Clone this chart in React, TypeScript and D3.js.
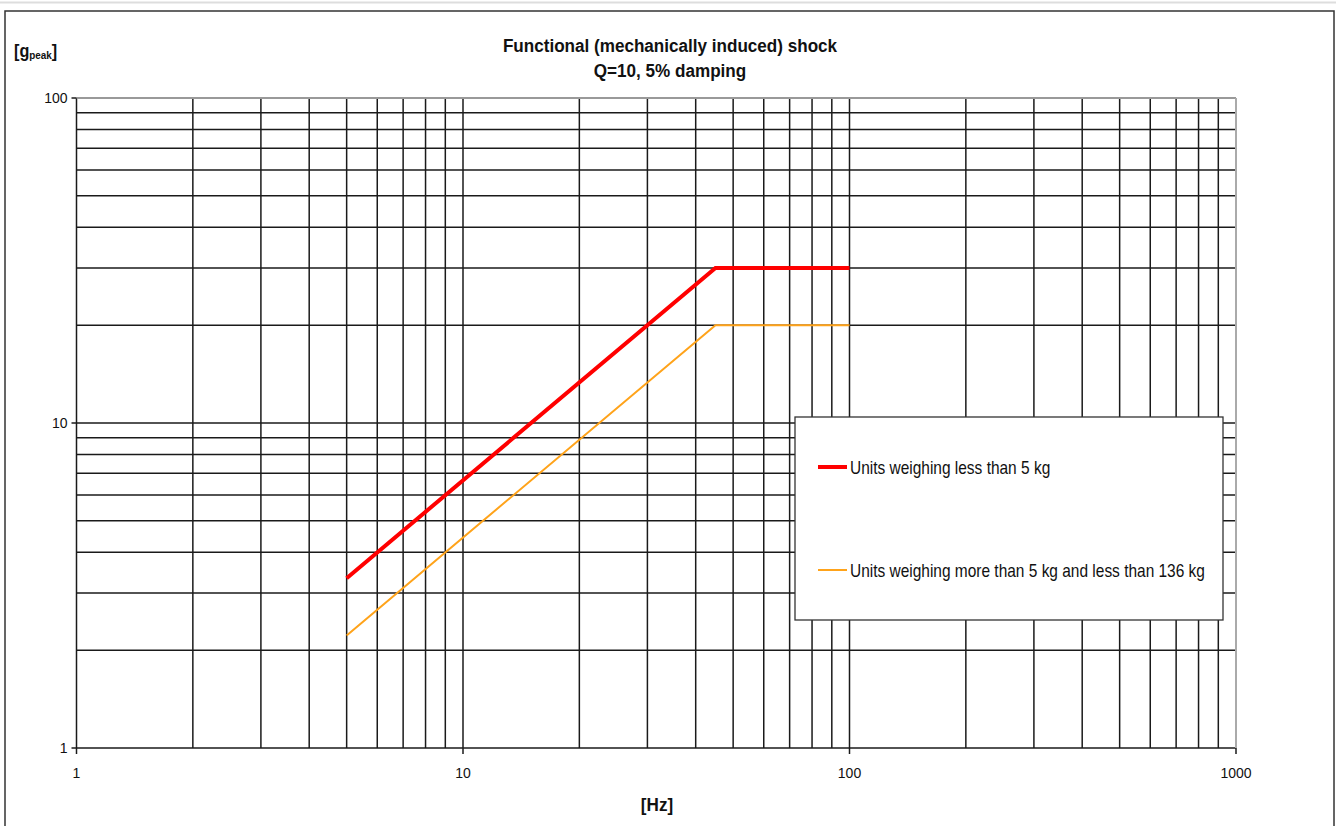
import React from 'react';
import * as d3 from 'd3';

// break points of the shock response spectrum
const freqHz = [5, 45, 100];
const lightUnitsG = [3.33, 30, 30];
const heavyUnitsG = [2.22, 20, 20];

const seriesNames = ['Units weighing less than 5 kg', 'Units weighing more than 5 kg and less than 136 kg'];
const seriesColors = ['#ff0000', '#ffa31a'];
const seriesWidths = [4, 2];

const xTicks = [1, 10, 100, 1000];
const yTicks = [1, 10, 100];
const titleLines = ['Functional (mechanically induced) shock', 'Q=10, 5% damping'];

const W = 1336;
const H = 826;
const font = '"Liberation Sans", Arial, sans-serif';

// the original uses a narrow face; squeeze Liberation Sans horizontally
function Narrow({ x, y, sx, anchor, children, ...rest }: any) {
  return (
    <g transform={`translate(${x},${y}) scale(${sx},1)`}>
      <text x={0} y={0} textAnchor={anchor} fontFamily={font} fill="#111" {...rest}>{children}</text>
    </g>
  );
}

export default function App() {
  const x = d3.scaleLog().domain([1, 1000]).range([76.5, 1236]);
  const y = d3.scaleLog().domain([1, 100]).range([748, 98]);

  // minor + major grid values for each decade
  const xGrid: number[] = [];
  for (const d of [1, 10, 100]) for (let k = 1; k < 10; k++) xGrid.push(d * k);
  const yGrid: number[] = [];
  for (const d of [1, 10]) for (let k = 1; k < 10; k++) yGrid.push(d * k);

  const line = d3.line<[number, number]>()
    .x(d => x(d[0]))
    .y(d => y(d[1]));

  const series = [lightUnitsG, heavyUnitsG].map(vals => freqHz.map((f, i) => [f, vals[i]] as [number, number]));

  const [x0, x1] = x.range();
  const [y0, y1] = y.range();

  return (
    <svg width={W} height={H} style={{ position: 'absolute', left: 0, top: 0, background: '#fff' }}>
      <line x1={0} x2={W} y1={2.5} y2={2.5} stroke="#ddd" strokeWidth={2} />
      <rect x={5} y={11} width={1329} height={H} fill="#fff" stroke="#333" strokeWidth={1.5} />

      {/* title */}
      {titleLines.map((t, i) => (
        <Narrow key={i} x={670} y={52 + i * 25} sx={0.9} anchor="middle" fontWeight="bold" fontSize={19}>{t}</Narrow>
      ))}

      {/* grid */}
      <g stroke="#1a1a1a" strokeWidth={1.5}>
        {xGrid.map(v => (
          <line key={'x' + v} x1={x(v)} x2={x(v)} y1={y1} y2={y0} />
        ))}
        {yGrid.map(v => (
          <line key={'y' + v} x1={x0} x2={x1} y1={y(v)} y2={y(v)} />
        ))}
      </g>
      <line x1={x0} x2={x1} y1={y1} y2={y1} stroke="#999" strokeWidth={2} />
      <line x1={x1} x2={x1} y1={y1} y2={y0} stroke="#aaa" strokeWidth={2} />

      {/* ticks */}
      <g stroke="#1a1a1a" strokeWidth={1.5}>
        {yTicks.map(v => <line key={'ty' + v} x1={x0 - 5} x2={x0} y1={y(v)} y2={y(v)} />)}
        {xTicks.map(v => <line key={'tx' + v} x1={x(v)} x2={x(v)} y1={y0} y2={y0 + 6} />)}
      </g>
      {yTicks.map(v => (
        <text key={'ly' + v} x={x0 - 9} y={y(v) + 5} textAnchor="end" fontFamily={font} fontSize={14} fill="#111">{v}</text>
      ))}
      {xTicks.map(v => (
        <text key={'lx' + v} x={x(v)} y={y0 + 30} textAnchor="middle" fontFamily={font} fontSize={14} fill="#111">{v}</text>
      ))}

      {/* axis titles */}
      <Narrow x={14} y={57} sx={0.9} fontWeight="bold" fontSize={18}>
        [g<tspan fontSize={11} dy={2}>peak</tspan><tspan dy={-2}>]</tspan>
      </Narrow>
      <Narrow x={657} y={811} sx={0.9} anchor="middle" fontWeight="bold" fontSize={19}>[Hz]</Narrow>

      {/* data */}
      {series.map((s, i) => (
        <path key={i} d={line(s) ?? ''} fill="none" stroke={seriesColors[i]} strokeWidth={seriesWidths[i]} />
      ))}

      {/* legend */}
      <rect x={795} y={417} width={428} height={203} fill="#fff" stroke="#333" strokeWidth={1.3} />
      {seriesNames.map((n, i) => {
        const ly = 467 + i * 103;
        return (
          <g key={n}>
            <line x1={818} x2={847} y1={ly} y2={ly} stroke={seriesColors[i]} strokeWidth={seriesWidths[i]} />
            <Narrow x={850} y={ly + 7} sx={0.86} fontSize={18}>{n}</Narrow>
          </g>
        );
      })}
    </svg>
  );
}
